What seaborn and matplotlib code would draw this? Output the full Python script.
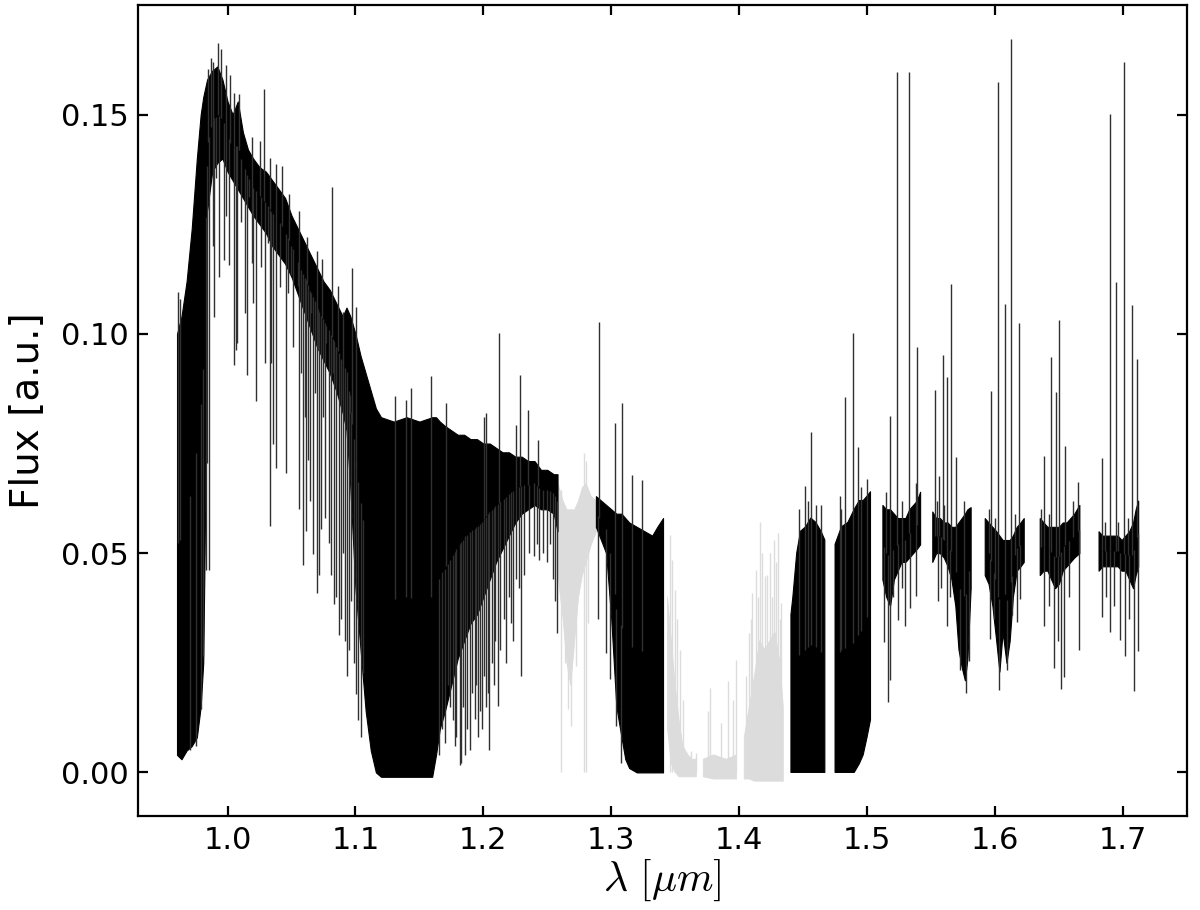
import numpy as np
import matplotlib
matplotlib.use("Agg")
import matplotlib.pyplot as plt
import seaborn as sns

# ------------------------------------------------------------------
# Near-IR spectrum.
# Each black chunk is stored as an envelope (wavelength, upper, lower)
# of the dense part; isolated lines are stored separately.
# ------------------------------------------------------------------
nan = np.nan

# 0.96 - 1.26 um
seg1_wl = [0.9605, 0.9640, 0.9680, 0.9720, 0.9760, 0.9790, 0.9810, 0.9825, 0.9840, 0.9880,
           0.9920, 0.9960, 1.0000, 1.0040, 1.0080, 1.0120, 1.0160, 1.0200, 1.0250, 1.0300,
           1.0350, 1.0400, 1.0450, 1.0500, 1.0550, 1.0600, 1.0650, 1.0700, 1.0750, 1.0800,
           1.0850, 1.0900, 1.0930, 1.0960, 1.1000, 1.1040, 1.1080, 1.1120, 1.1160, 1.1200,
           1.1300, 1.1400, 1.1500, 1.1600, 1.1630, 1.1660, 1.1700, 1.1750, 1.1800, 1.1850,
           1.1900, 1.1950, 1.2000, 1.2050, 1.2100, 1.2150, 1.2200, 1.2250, 1.2300, 1.2350,
           1.2400, 1.2450, 1.2500, 1.2550, 1.2580]
seg1_top = [0.100, 0.104, 0.112, 0.124, 0.140, 0.150, 0.154, 0.156, 0.158, 0.160,
            0.161, 0.158, 0.153, 0.150, 0.153, 0.146, 0.142, 0.140, 0.138, 0.137,
            0.135, 0.133, 0.131, 0.127, 0.124, 0.121, 0.118, 0.115, 0.112, 0.110,
            0.107, 0.104, 0.106, 0.104, 0.100, 0.095, 0.091, 0.087, 0.083, 0.081,
            0.080, 0.081, 0.080, 0.081, 0.081, 0.080, 0.079, 0.078, 0.077, 0.077,
            0.076, 0.076, 0.075, 0.075, 0.074, 0.073, 0.073, 0.072, 0.072, 0.071,
            0.071, 0.069, 0.069, 0.068, 0.068]
seg1_bot = [0.004, 0.003, 0.005, 0.006, 0.008, 0.015, 0.025, 0.060, 0.128, 0.137,
            0.139, 0.140, 0.137, 0.135, 0.133, 0.131, 0.129, 0.127, 0.125, 0.123,
            0.120, 0.118, 0.116, 0.113, 0.109, 0.105, 0.101, 0.097, 0.094, 0.091,
            0.087, 0.082, 0.078, 0.065, 0.042, 0.028, 0.014, 0.005, 0.000, -0.001,
            -0.001, -0.001, -0.001, -0.001, 0.004, 0.010, 0.014, 0.020, 0.026, 0.030,
            0.034, 0.036, 0.040, 0.044, 0.048, 0.051, 0.054, 0.057, 0.059, 0.060,
            0.061, 0.060, 0.060, 0.059, 0.055]

# 1.29 - 1.34 um
segb_wl = [1.2880, 1.2920, 1.2960, 1.3000, 1.3040, 1.3080, 1.3110, 1.3140, 1.3200, 1.3260,
           1.3320, 1.3360, 1.3405]
segb_top = [0.063, 0.062, 0.061, 0.060, 0.059, 0.059, 0.058, 0.057, 0.056, 0.055,
            0.054, 0.056, 0.058]
segb_bot = [0.056, 0.053, 0.050, 0.035, 0.015, 0.008, 0.003, 0.001, 0.000, 0.000,
            0.000, 0.000, 0.000]

# 1.44 - 1.50 um (two chunks)
segc_wl = [1.4405, 1.4420, 1.4450, 1.4480, 1.4520, 1.4560, 1.4600, 1.4640, 1.4670, 1.4675,
           1.4745, 1.4750, 1.4800, 1.4850, 1.4900, 1.4940, 1.4970, 1.5000, 1.5027]
segc_top = [0.036, 0.040, 0.050, 0.055, 0.056, 0.058, 0.057, 0.055, 0.053, nan,
            nan, 0.052, 0.056, 0.057, 0.060, 0.062, 0.062, 0.063, 0.064]
segc_bot = [0.000, 0.000, 0.000, 0.000, 0.000, 0.000, 0.000, 0.000, 0.000, nan,
            nan, 0.000, 0.000, 0.000, 0.000, 0.002, 0.004, 0.008, 0.012]

segd_wl = [1.5120, 1.5150, 1.5180, 1.5210, 1.5240, 1.5270, 1.5300, 1.5330, 1.5360, 1.5390, 1.5415]
segd_top = [0.061, 0.060, 0.060, 0.059, 0.058, 0.058, 0.058, 0.060, 0.061, 0.062, 0.064]
segd_bot = [0.044, 0.040, 0.038, 0.044, 0.046, 0.048, 0.048, 0.049, 0.050, 0.051, 0.052]

sege_wl = [1.5510, 1.5540, 1.5570, 1.5600, 1.5630, 1.5660, 1.5690, 1.5715, 1.5740, 1.5765, 1.5785, 1.5810]
sege_top = [0.0595, 0.058, 0.058, 0.057, 0.057, 0.056, 0.056, 0.057, 0.058, 0.059, 0.060, 0.0605]
sege_bot = [0.048, 0.050, 0.050, 0.049, 0.047, 0.044, 0.038, 0.028, 0.024, 0.021, 0.026, 0.042]

segf_wl = [1.5920, 1.5950, 1.5980, 1.6010, 1.6035, 1.6060, 1.6090, 1.6115, 1.6140, 1.6170, 1.6200, 1.6225]
segf_top = [0.058, 0.057, 0.056, 0.055, 0.054, 0.053, 0.053, 0.053, 0.054, 0.056, 0.057, 0.058]
segf_bot = [0.045, 0.043, 0.038, 0.030, 0.023, 0.032, 0.025, 0.030, 0.040, 0.046, 0.047, 0.048]

segg_wl = [1.6350, 1.6380, 1.6410, 1.6440, 1.6470, 1.6500, 1.6530, 1.6560, 1.6590, 1.6620, 1.6660]
segg_top = [0.058, 0.057, 0.056, 0.056, 0.056, 0.056, 0.057, 0.057, 0.058, 0.059, 0.061]
segg_bot = [0.045, 0.046, 0.046, 0.044, 0.042, 0.043, 0.046, 0.047, 0.048, 0.049, 0.050]

segh_wl = [1.6810, 1.6840, 1.6870, 1.6900, 1.6930, 1.6960, 1.6990, 1.7020, 1.7050, 1.7080, 1.7100, 1.7120]
segh_top = [0.055, 0.054, 0.054, 0.054, 0.054, 0.054, 0.053, 0.054, 0.055, 0.057, 0.060, 0.062]
segh_bot = [0.046, 0.047, 0.047, 0.047, 0.047, 0.047, 0.046, 0.046, 0.044, 0.042, 0.045, 0.047]

# telluric bands (masked, light grey)
gray1_wl = [1.2580, 1.2620, 1.2650, 1.2680, 1.2710, 1.2740, 1.2770, 1.2800, 1.2840, 1.2880]
gray1_top = [0.066, 0.062, 0.060, 0.060, 0.060, 0.062, 0.065, 0.066, 0.063, 0.062]
gray1_bot = [0.045, 0.035, 0.025, 0.020, 0.030, 0.040, 0.045, 0.048, 0.052, 0.055]

gray2_wl = [1.3440, 1.3470, 1.3500, 1.3530, 1.3560, 1.3600, 1.3630, 1.3665, 1.3670, 1.3715,
            1.3720, 1.3800, 1.3900, 1.3980, 1.3985, 1.4035, 1.4040, 1.4080, 1.4120, 1.4160,
            1.4200, 1.4240, 1.4280, 1.4320, 1.4345]
gray2_top = [0.040, 0.030, 0.020, 0.012, 0.006, 0.004, 0.003, 0.003, nan, nan,
             0.003, 0.004, 0.003, 0.004, nan, nan, 0.008, 0.015, 0.022, 0.030,
             0.028, 0.030, 0.032, 0.025, 0.015]
gray2_bot = [0.010, 0.002, 0.000, -0.001, -0.001, -0.001, -0.001, -0.001, nan, nan,
             -0.001, -0.0015, -0.0015, -0.0015, nan, nan, -0.0015, -0.0015, -0.002, -0.002,
             -0.002, -0.002, -0.002, -0.002, -0.002]

gray_line_wl = [1.2609, 1.2786, 1.2800, 1.3456, 1.3477, 1.3495, 1.3513, 1.3534, 1.3560, 1.3625,
                1.3665, 1.3756, 1.3774, 1.3860, 1.3912, 1.3951, 1.3977, 1.4055, 1.4076, 1.4090,
                1.4102, 1.4128, 1.4145, 1.4165, 1.4180, 1.4199, 1.4220, 1.4238, 1.4255, 1.4269,
                1.4290, 1.4303, 1.4318, 1.4330]
gray_line_top = [0.0645, 0.0728, 0.0710, 0.0542, 0.0485, 0.0417, 0.0349, 0.0280, 0.0166, 0.0049,
                 0.0045, 0.0140, 0.0193, 0.0113, 0.0208, 0.0166, 0.0257, 0.0220, 0.0318, 0.0350,
                 0.0409, 0.0462, 0.0400, 0.0572, 0.0500, 0.0448, 0.0450, 0.0501, 0.0400, 0.0531,
                 0.0480, 0.0546, 0.0350, 0.0387]
gray_dip_wl = [1.2640, 1.2661, 1.2687, 1.2726, 1.2822]
gray_dip_bot = [0.025, 0.0144, 0.0105, 0.0242, 0.034]

# isolated emission-like spikes (wavelength, peak flux)
spike_wl = [0.9611, 0.9628, 0.9846, 0.9870, 0.9890, 0.9924, 0.9950, 0.9990, 1.0023, 1.0050,
            1.0089, 1.0190, 1.0250, 1.0289, 1.0330, 1.0380, 1.0425, 1.0480, 1.0560, 1.0623,
            1.0700, 1.0740, 1.0816, 1.0860, 1.0902, 1.0975, 1.1006, 1.1310, 1.1397, 1.1436,
            1.1593, 1.1710, 1.2009, 1.2022, 1.2121, 1.2257, 1.2290, 1.2353, 1.2426, 1.2908,
            1.3026, 1.3086, 1.3159, 1.3237,
            1.4470, 1.4517, 1.4540, 1.4560, 1.4600, 1.4640, 1.4785, 1.4800, 1.4830, 1.4887,
            1.4928, 1.4950, 1.5000, 1.5150, 1.5180, 1.5236, 1.5270, 1.5330, 1.5380, 1.5390,
            1.5533, 1.5550, 1.5564, 1.5596, 1.5600, 1.5627, 1.5653, 1.5697, 1.5760, 1.5950,
            1.5968, 1.6000, 1.6026, 1.6075, 1.6124, 1.6160, 1.6190, 1.6360, 1.6382, 1.6420,
            1.6435, 1.6474, 1.6497, 1.6550, 1.6610, 1.6646, 1.6834, 1.6860, 1.6898, 1.6948,
            1.6960, 1.7006, 1.7040, 1.7070, 1.7112]
spike_top = [0.1096, 0.1080, 0.1605, 0.1630, 0.1620, 0.1664, 0.1650, 0.1613, 0.1590, 0.1550,
             0.1548, 0.1450, 0.1440, 0.1558, 0.1400, 0.1387, 0.1383, 0.1320, 0.1280, 0.1220,
             0.1190, 0.1170, 0.1334, 0.1110, 0.1051, 0.1150, 0.1062, 0.0859, 0.0850, 0.0877,
             0.0904, 0.0843, 0.0811, 0.0820, 0.1002, 0.0793, 0.0907, 0.0827, 0.0759, 0.1028,
             0.0797, 0.0843, 0.0679, 0.0667,
             0.0600, 0.0654, 0.0620, 0.0777, 0.0610, 0.0610, 0.0630, 0.0600, 0.0855, 0.1002,
             0.0743, 0.0650, 0.0670, 0.0640, 0.0812, 0.1598, 0.0620, 0.1598, 0.0660, 0.0971,
             0.0872, 0.0620, 0.0677, 0.0952, 0.0610, 0.0902, 0.1114, 0.0720, 0.0620, 0.0600,
             0.0869, 0.0580, 0.1575, 0.1069, 0.1672, 0.0590, 0.1024, 0.0600, 0.0722, 0.0590,
             0.0947, 0.0867, 0.1032, 0.0745, 0.0620, 0.0662, 0.0718, 0.0570, 0.1502, 0.1119,
             0.0570, 0.1620, 0.0580, 0.1066, 0.0942]

# deep absorption lines (wavelength, minimum flux)
dip_wl = [0.9708, 0.9755, 0.9794, 0.9812, 0.9833, 0.9838, 0.9854, 0.9885, 0.9898, 0.9906,
          0.9937, 0.9969, 0.9990, 1.0008, 1.0047, 1.0068, 1.0073, 1.0107, 1.0133, 1.0151,
          1.0164, 1.0188, 1.0203, 1.0224, 1.0263, 1.0295, 1.0315, 1.0334, 1.0342, 1.0354,
          1.0380, 1.0407, 1.0459, 1.0472, 1.0498, 1.0510, 1.0550, 1.0560, 1.0576, 1.0589,
          1.0602, 1.0610, 1.0628, 1.0645, 1.0654, 1.0667, 1.0680, 1.0698, 1.0706, 1.0715,
          1.0733, 1.0745, 1.0760, 1.0772, 1.0792, 1.0810, 1.0823, 1.0831, 1.0849, 1.0850,
          1.0868, 1.0885, 1.0889, 1.0902, 1.0920, 1.0933, 1.0950, 1.0954, 1.0967, 1.0985,
          1.1001, 1.1020, 1.1040, 1.1058,
          1.1650, 1.1680, 1.1697, 1.1720, 1.1740, 1.1760, 1.1775, 1.1790, 1.1814, 1.1827,
          1.1840, 1.1860, 1.1875, 1.1892, 1.1910, 1.1931, 1.1945, 1.1960, 1.1975, 1.1990,
          1.2005, 1.2020, 1.2035, 1.2048, 1.2065, 1.2080, 1.2095, 1.2113, 1.2130, 1.2160,
          1.2179, 1.2200, 1.2218, 1.2235, 1.2257, 1.2275, 1.2291, 1.2320, 1.2360, 1.2400,
          1.2420, 1.2439, 1.2470, 1.2500, 1.2520, 1.2543, 1.2557, 1.2575,
          1.2900, 1.2960, 1.2987, 1.3039, 1.3078,
          1.5134, 1.5160, 1.5179, 1.5200, 1.5244, 1.5270, 1.5296, 1.5336, 1.5383,
          1.5558, 1.5580, 1.5623, 1.5650, 1.5728, 1.5770, 1.5794,
          1.5963, 1.5990, 1.6028, 1.6094, 1.6130, 1.6173, 1.6199,
          1.6387, 1.6420, 1.6460, 1.6490, 1.6513, 1.6539, 1.6580, 1.6656,
          1.6839, 1.6870, 1.6899, 1.6930, 1.6975, 1.7015, 1.7050, 1.7088, 1.7119]
dip_bot = [0.0052, 0.0060, 0.0144, 0.0265, 0.0462, 0.0706, 0.0462, 0.1200, 0.1039, 0.1355,
           0.1130, 0.1169, 0.1268, 0.1157, 0.0929, 0.0963, 0.0979, 0.1255, 0.1047, 0.0907,
           0.1312, 0.1161, 0.1070, 0.0846, 0.1153, 0.0933, 0.1207, 0.0561, 0.0933, 0.0749,
           0.0694, 0.1107, 0.0683, 0.1093, 0.1134, 0.0971, 0.1110, 0.0600, 0.0911, 0.0474,
           0.0811, 0.0550, 0.0713, 0.0620, 0.1047, 0.0497, 0.0865, 0.0409, 0.0963, 0.0450,
           0.0554, 0.0811, 0.0580, 0.0979, 0.0523, 0.0450, 0.0911, 0.0383, 0.0880, 0.0400,
           0.0314, 0.0350, 0.0850, 0.0500, 0.0300, 0.0221, 0.0280, 0.0820, 0.0390, 0.0250,
           0.0178, 0.0120, 0.0080, 0.0227,
           0.0040, 0.0100, 0.0068, 0.0200, 0.0150, 0.0120, 0.0060, 0.0080, 0.0018, 0.0022,
           0.0150, 0.0040, 0.0100, 0.0052, 0.0180, 0.0121, 0.0200, 0.0080, 0.0140, 0.0100,
           0.0220, 0.0150, 0.0180, 0.0052, 0.0250, 0.0200, 0.0300, 0.0151, 0.0280, 0.0350,
           0.0250, 0.0400, 0.0341, 0.0300, 0.0440, 0.0420, 0.0220, 0.0450, 0.0500, 0.0493,
           0.0520, 0.0485, 0.0500, 0.0480, 0.0520, 0.0440, 0.0390, 0.0318,
           0.0349, 0.0273, 0.0212, 0.0105, 0.0022,
           0.0298, 0.0161, 0.0210, 0.0400, 0.0347, 0.0420, 0.0333, 0.0374, 0.0403,
           0.0390, 0.0420, 0.0335, 0.0400, 0.0233, 0.0181, 0.0253,
           0.0305, 0.0350, 0.0189, 0.0233, 0.0360, 0.0344, 0.0396,
           0.0333, 0.0380, 0.0237, 0.0300, 0.0191, 0.0218, 0.0400, 0.0279,
           0.0355, 0.0400, 0.0321, 0.0380, 0.0302, 0.0265, 0.0350, 0.0186, 0.0276]

# ------------------------------------------------------------------
sns.set_theme(style="ticks")
plt.rcParams["font.family"] = ["DejaVu Sans"]
plt.rcParams["mathtext.fontset"] = "cm"

fig, ax = plt.subplots(figsize=(12, 9.1), dpi=100)
fig.subplots_adjust(left=0.115, right=0.989, bottom=0.103, top=0.9945)

black_segs = [(seg1_wl, seg1_top, seg1_bot), (segb_wl, segb_top, segb_bot),
              (segc_wl, segc_top, segc_bot), (segd_wl, segd_top, segd_bot),
              (sege_wl, sege_top, sege_bot), (segf_wl, segf_top, segf_bot),
              (segg_wl, segg_top, segg_bot), (segh_wl, segh_top, segh_bot)]
gray_segs = [(gray1_wl, gray1_top, gray1_bot), (gray2_wl, gray2_top, gray2_bot)]

gray_c = "#dcdcdc"
for wl, top, bot in gray_segs:
    ax.fill_between(wl, bot, top, color=gray_c, lw=0.6, edgecolor=gray_c)
ax.vlines(gray_line_wl, 0.0, gray_line_top, color=gray_c, lw=1.0)
ax.vlines(gray_dip_wl, gray_dip_bot, 0.055, color=gray_c, lw=1.0)

# envelope of all black chunks, used to anchor the isolated lines
env_wl = np.concatenate([np.asarray(s[0]) for s in black_segs])
env_top = np.concatenate([np.asarray(s[1]) for s in black_segs])
env_bot = np.concatenate([np.asarray(s[2]) for s in black_segs])
ok = ~np.isnan(env_top)
env_wl, env_top, env_bot = env_wl[ok], env_top[ok], env_bot[ok]
env_mid = 0.5 * (env_top + env_bot)

line_c = "#303030"
ax.vlines(spike_wl, np.interp(spike_wl, env_wl, env_mid), spike_top, color=line_c, lw=1.0)
ax.vlines(dip_wl, dip_bot, np.interp(dip_wl, env_wl, env_mid), color=line_c, lw=1.0)

for wl, top, bot in black_segs:
    ax.fill_between(wl, bot, top, color="black", lw=0.8, edgecolor="black")

ax.set_xlim(0.93, 1.75)
ax.set_ylim(-0.01, 0.175)
ax.set_xticks([1.0, 1.1, 1.2, 1.3, 1.4, 1.5, 1.6, 1.7])
ax.set_yticks([0.00, 0.05, 0.10, 0.15])
ax.xaxis.set_major_formatter(matplotlib.ticker.FormatStrFormatter("%.1f"))
ax.yaxis.set_major_formatter(matplotlib.ticker.FormatStrFormatter("%.2f"))
ax.tick_params(direction="in", top=True, right=True, length=7, width=1.6,
               labelsize=22, pad=7, color="black", labelcolor="black")
for sp in ax.spines.values():
    sp.set_linewidth(1.6)
    sp.set_color("black")

ax.set_xlabel(r"$\lambda\ [\mu m]$", fontsize=30, color="black", labelpad=2)
ax.set_ylabel("Flux [a.u.]", fontsize=28, color="black", labelpad=10)

fig.savefig("out.png", dpi=100, facecolor="white")
